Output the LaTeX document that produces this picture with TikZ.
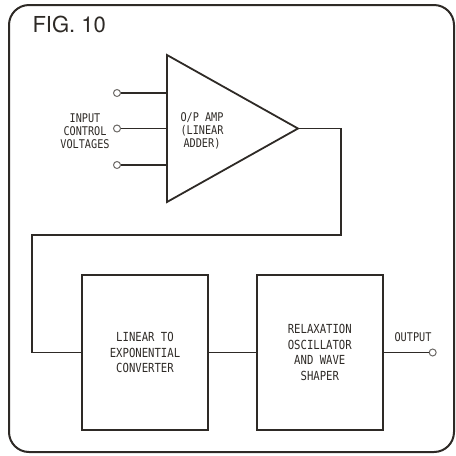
\documentclass[tikz,border=0pt]{standalone}
\usepackage{fontspec}
\setmainfont{DejaVu Sans Mono}
\newfontfamily\diagfont[FakeStretch=0.85]{DejaVu Sans Mono}
\newfontfamily\figfont{TeX Gyre Heros}
\usepackage{tikz}
\usetikzlibrary{positioning}
\definecolor{diagink}{HTML}{2E2A26}

\begin{document}
\begin{tikzpicture}[x=1pt,y=-1pt,
  block/.style={draw=diagink,line width=1.8pt,
                minimum width=126pt,minimum height=155pt,align=center,
                font=\diagfont\fontsize{12.5pt}{15.7pt}\selectfont,text=diagink},
  lbl/.style={align=center,inner sep=0pt,text=diagink,
              font=\diagfont\fontsize{12pt}{12.8pt}\selectfont},
  term/.style={circle,draw=diagink!70,line width=1pt,fill=white,
               inner sep=0pt,minimum size=7pt},
  wire/.style={draw=diagink,line width=1.3pt},
  node distance=47pt
]
\useasboundingbox (0,0) rectangle (456,456);
\draw[draw=diagink,line width=2pt,rounded corners=20pt] (9,5) rectangle (454,452);
\node[anchor=west,text=diagink,font=\figfont\fontsize{22pt}{22pt}\selectfont] (fig) at (29,24) {FIG. 10};
% summing amplifier
\coordinate (ampTop) at (167,55);
\coordinate (ampBot) at (167,202);
\coordinate (ampOut) at (298,128.5);
\draw[draw=diagink,line width=1.8pt,line join=miter] (ampTop) -- (ampOut) -- (ampBot) -- cycle;
\node[lbl] (amp) at (202,131) {O/P AMP\\(LINEAR\\ADDER)};
\node[lbl] (inlbl) at (85,131) {INPUT\\CONTROL\\VOLTAGES};
\node[term] (in1) at (117,93) {};
\node[term] (in2) at (117,128.5) {};
\node[term] (in3) at (117,165) {};
\draw[wire] (in1) -- (in1 -| ampTop);
\draw[wire] (in2) -- (in2 -| ampTop);
\draw[wire] (in3) -- (in3 -| ampTop);
% lower chain
\node[block] (conv) at (145,352.5) {LINEAR TO\\EXPONENTIAL\\CONVERTER};
\node[block,right=of conv] (osc) {RELAXATION\\OSCILLATOR\\AND WAVE\\SHAPER};
\node[term,right=45pt of osc] (out) {};
\node[lbl] (outlbl) at (413,337) {OUTPUT};
\draw[wire] (conv) -- (osc);
\draw[wire] (osc) -- (out);
\coordinate (fbRight) at (341,128.5);
\coordinate (fbTurn) at (32,235);
\draw[wire] (ampOut) -- (fbRight) |- (fbTurn) |- (conv.west);
\end{tikzpicture}
\end{document}
